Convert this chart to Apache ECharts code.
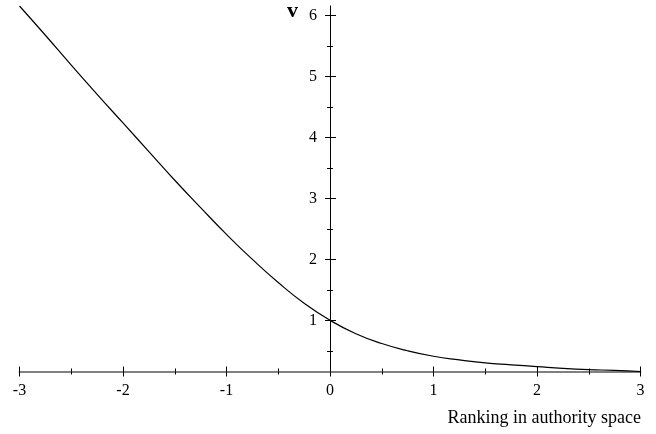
<!DOCTYPE html>
<html>
<head>
<meta charset="utf-8">
<script src="https://cdn.jsdelivr.net/npm/echarts@6/dist/echarts.min.js"></script>
<style>
  html, body { margin: 0; padding: 0; background: #fff; }
  #chart { width: 656px; height: 434px; }
</style>
</head>
<body>
<div id="chart"></div>
<script>
// values
const xs = [-3, -2.75, -2.5, -2.25, -2, -1.75, -1.5, -1.25, -1, -0.75, -0.5, -0.25,
            0, 0.25, 0.5, 0.75, 1, 1.25, 1.5, 1.75, 2, 2.25, 2.5, 2.75, 3];
const vs = [6.16, 5.68, 5.19, 4.71, 4.24, 3.77, 3.30, 2.85, 2.41, 2.00, 1.62, 1.28,
            1.00, 0.78, 0.62, 0.50, 0.41, 0.35, 0.30, 0.27, 0.24, 0.21, 0.19, 0.18, 0.16];
const yMajor = [1, 2, 3, 4, 5, 6];
const yMinor = [0.5, 1.5, 2.5, 3.5, 4.5, 5.5];
const yMin = 0.16, yMax = 6.16;

const serif = '"Liberation Serif", "DejaVu Serif", serif';

const chart = echarts.init(document.getElementById('chart'));

// grid 1 starts at x = 0 of grid 0, so its left axis is the vertical axis line
// ticks cross the line: one axis draws them outward, one inward
const yAxisPart = (values, len, inside, showLine, showLabel) => ({
  type: 'value',
  gridIndex: 1,
  min: yMin,
  max: yMax,
  position: 'left',
  splitLine: { show: false },
  axisLine: { show: showLine, lineStyle: { color: '#000', width: 1 } },
  axisTick: { show: true, inside: inside, customValues: values, length: len, lineStyle: { color: '#000', width: 1 } },
  axisLabel: {
    show: showLabel,
    customValues: values,
    margin: 13,
    padding: [5, 0, 0, 0],
    color: '#000',
    fontFamily: serif,
    fontSize: 16
  }
});

const option = {
  animation: false,
  grid: [
    { left: 19.5, right: 15.5, top: 6, bottom: 62.5 },
    { left: 330, right: 15.5, top: 6, bottom: 62.5 }
  ],
  xAxis: [
    {
      type: 'value',
      min: -3,
      max: 3,
      interval: 1,
      position: 'bottom',
      splitLine: { show: false },
      axisLine: { show: true, lineStyle: { color: '#808080', width: 2 } },
      axisTick: { show: true, length: 5, lineStyle: { color: '#000', width: 1 } },
      minorTick: { show: true, splitNumber: 2, length: 3, lineStyle: { color: '#000', width: 1 } },
      axisLabel: { margin: 11, color: '#000', fontFamily: serif, fontSize: 16 }
    },
    {
      type: 'value',
      min: -3,
      max: 3,
      interval: 1,
      position: 'bottom',
      splitLine: { show: false },
      axisLine: { show: false },
      axisTick: { show: true, inside: true, length: 5, lineStyle: { color: '#000', width: 1 } },
      minorTick: { show: true, splitNumber: 2, length: 3, lineStyle: { color: '#000', width: 1 } },
      axisLabel: { show: false }
    },
    {
      type: 'value',
      gridIndex: 1,
      min: 0,
      max: 3,
      show: false
    }
  ],
  yAxis: [
    { type: 'value', min: yMin, max: yMax, show: false },
    yAxisPart(yMajor, 5, false, true, true),
    yAxisPart(yMajor, 6, true, false, false),
    yAxisPart(yMinor, 3, false, false, false),
    yAxisPart(yMinor, 3, true, false, false)
  ],
  graphic: [
    {
      type: 'text',
      left: 287,
      top: 0,
      style: { text: 'v', font: 'bold 22px ' + serif, fill: '#000' }
    },
    {
      type: 'text',
      right: 15,
      top: 409,
      style: { text: 'Ranking in authority space', font: '18px ' + serif, fill: '#000' }
    }
  ],
  series: [
    {
      type: 'line',
      xAxisIndex: 0,
      yAxisIndex: 0,
      data: xs.map((x, i) => [x, vs[i]]),
      smooth: true,
      showSymbol: false,
      lineStyle: { color: '#000', width: 1.2 }
    }
  ]
};

chart.setOption(option);
</script>
</body>
</html>
